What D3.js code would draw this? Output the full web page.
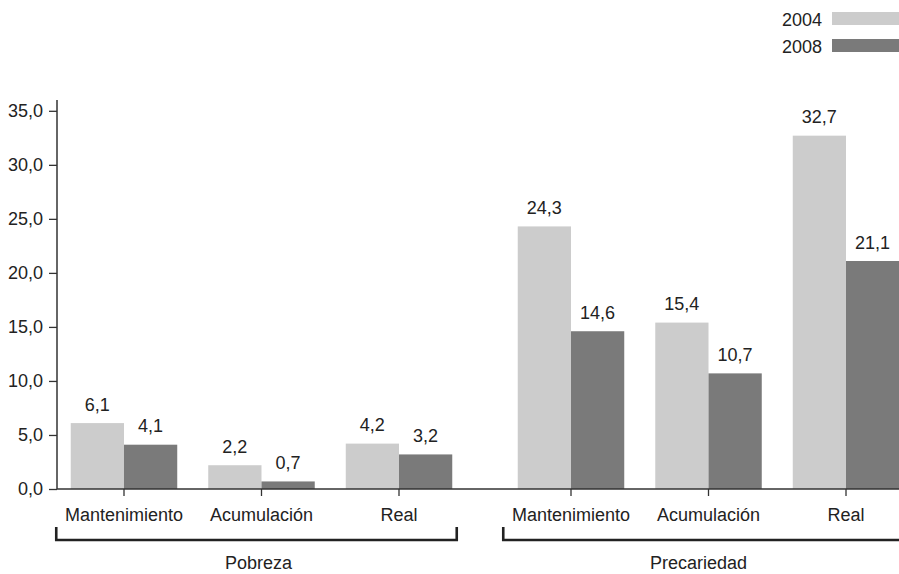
<!DOCTYPE html>
<html>
<head>
<meta charset="utf-8">
<script src="https://cdn.jsdelivr.net/npm/d3@7"></script>
<style>
  html, body { margin: 0; padding: 0; background: #fff; }
  svg { display: block; }
  text { font-family: "Liberation Sans", Arial, Helvetica, sans-serif; fill: #222; }
</style>
</head>
<body>
<svg id="chart" width="899" height="574"></svg>
<script>
const groups = ["Pobreza", "Precariedad"];
const categories = ["Mantenimiento", "Acumulación", "Real"];
const years = ["2004", "2008"];
const values2004 = [6.1, 2.2, 4.2, 24.3, 15.4, 32.7];
const values2008 = [4.1, 0.7, 3.2, 14.6, 10.7, 21.1];
const yTicks = [0, 5, 10, 15, 20, 25, 30, 35];
const colors = ["#cccccc", "#7a7a7a"];
const groupLabelDx = [2, -5];

const fmt = v => d3.format(".1f")(v).replace(".", ",");

const svg = d3.select("#chart");
const fontSize = 18;

const y = d3.scaleLinear().domain([0, 36]).range([489, 100]);

const xOuter = d3.scaleBand().domain(groups).range([55.25, 914.75]).paddingInner(0.0772).paddingOuter(0);
const xInner = d3.scaleBand().domain(categories).range([0, xOuter.bandwidth()]).paddingInner(0.2255).paddingOuter(0.1127);
const xYear = d3.scaleBand().domain(years).range([0, xInner.bandwidth()]);

const rows = [];
groups.forEach((g, gi) => {
  categories.forEach((c, ci) => {
    const idx = gi * categories.length + ci;
    rows.push({ g, c, vals: [values2004[idx], values2008[idx]] });
  });
});

const axisX = 57;

// bars
const catG = svg.append("g").selectAll("g").data(rows).join("g")
  .attr("transform", d => `translate(${xOuter(d.g) + xInner(d.c)},0)`);

catG.selectAll("rect").data(d => d.vals.map((v, i) => ({ v, yr: years[i], i }))).join("rect")
  .attr("x", d => xYear(d.yr))
  .attr("width", xYear.bandwidth())
  .attr("y", d => y(d.v))
  .attr("height", d => y(0) - y(d.v))
  .attr("fill", d => colors[d.i]);

catG.selectAll("text.val").data(d => d.vals.map((v, i) => ({ v, yr: years[i], i }))).join("text")
  .attr("class", "val")
  .attr("x", d => xYear(d.yr) + xYear.bandwidth() / 2)
  .attr("y", d => y(d.v) - 12.5)
  .attr("text-anchor", "middle")
  .style("font-size", fontSize + "px")
  .text(d => fmt(d.v));

// y axis
const yAxis = d3.axisLeft(y).tickValues(yTicks).tickFormat(fmt).tickSize(8).tickPadding(6);
const yg = svg.append("g").attr("transform", `translate(${axisX},0)`).call(yAxis);
yg.select(".domain").remove();
yg.selectAll(".tick line").attr("stroke", "#333").attr("stroke-width", 1.3);
yg.selectAll(".tick text").style("font-size", fontSize + "px").style("font-family", "Liberation Sans, Arial, sans-serif").attr("fill", "#222");
svg.append("line").attr("x1", axisX).attr("x2", axisX).attr("y1", y(36)).attr("y2", y(0))
  .attr("stroke", "#333").attr("stroke-width", 1.5);

// x axis baseline
svg.append("line").attr("x1", axisX).attr("x2", 899).attr("y1", y(0)).attr("y2", y(0))
  .attr("stroke", "#333").attr("stroke-width", 1.5);

// category ticks & labels
catG.append("line")
  .attr("x1", xInner.bandwidth() / 2).attr("x2", xInner.bandwidth() / 2)
  .attr("y1", y(0)).attr("y2", y(0) + 7)
  .attr("stroke", "#333").attr("stroke-width", 1.3);
catG.append("text")
  .attr("x", xInner.bandwidth() / 2)
  .attr("y", 521)
  .attr("text-anchor", "middle")
  .style("font-size", fontSize + "px")
  .text(d => d.c);

// group brackets
const br = svg.append("g").selectAll("g").data(groups).join("g");
br.append("path")
  .attr("d", g => {
    const x0 = xOuter(g) + 1, x1 = xOuter(g) + xOuter.bandwidth() - 11;
    return `M${x0},527 V540 H${x1} V527`;
  })
  .attr("fill", "none").attr("stroke", "#222").attr("stroke-width", 2.6);
br.append("text")
  .attr("x", (g, i) => xOuter(g) + 1 + (xOuter.bandwidth() - 12) / 2 + groupLabelDx[i])
  .attr("y", 569)
  .attr("text-anchor", "middle")
  .style("font-size", fontSize + "px")
  .text(g => g);

// legend
const lg = svg.append("g").selectAll("g").data(years).join("g")
  .attr("transform", (d, i) => `translate(0,${12 + i * 27})`);
lg.append("rect").attr("x", 832).attr("y", 0).attr("width", 70).attr("height", 13)
  .attr("fill", (d, i) => colors[i]);
lg.append("text").attr("x", 822).attr("y", 14).attr("text-anchor", "end")
  .style("font-size", fontSize + "px").text(d => d);
</script>
</body>
</html>
